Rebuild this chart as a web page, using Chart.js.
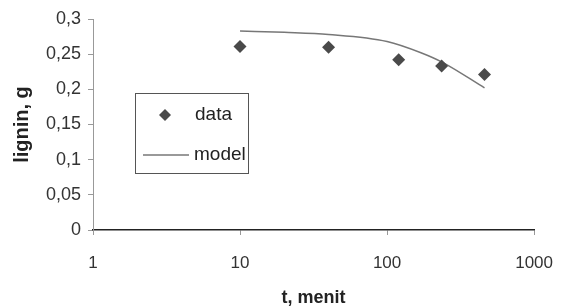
<!DOCTYPE html>
<html>
<head>
<meta charset="utf-8">
<script src="https://cdn.jsdelivr.net/npm/chart.js@4/dist/chart.umd.min.js"></script>
<style>
  html, body { margin: 0; padding: 0; background: #fff; }
  #wrap { width: 571px; height: 306px; }
</style>
</head>
<body>
<div id="wrap"><canvas id="lig" width="571" height="306"></canvas></div>
<script>
// values
var dataT = [10, 40, 120, 235, 460];
var dataLignin = [0.261, 0.260, 0.242, 0.233, 0.221];
var modelT = [10, 20, 40, 100, 170, 240, 460];
var modelLignin = [0.283, 0.281, 0.278, 0.268, 0.252, 0.238, 0.202];
var xTicks = [1, 10, 100, 1000];

var FONT = 'Liberation Sans, Arial, sans-serif';

function pairs(xs, ys) {
    var out = [];
    for (var i = 0; i < xs.length; i++) out.push({ x: xs[i], y: ys[i] });
    return out;
}

// legend drawn inside the plot, like the original
var boxLegend = {
    id: 'boxLegend',
    afterDraw: function (chart) {
        var ctx = chart.ctx;
        ctx.save();
        ctx.strokeStyle = '#555';
        ctx.lineWidth = 1;
        ctx.fillStyle = '#fff';
        ctx.fillRect(135.5, 93.5, 113, 80);
        ctx.strokeRect(135.5, 93.5, 113, 80);

        // diamond
        ctx.fillStyle = '#4a4a4a';
        ctx.beginPath();
        ctx.moveTo(165, 109);
        ctx.lineTo(171, 115);
        ctx.lineTo(165, 121);
        ctx.lineTo(159, 115);
        ctx.closePath();
        ctx.fill();

        // line
        ctx.strokeStyle = '#777';
        ctx.lineWidth = 1.5;
        ctx.beginPath();
        ctx.moveTo(143, 155);
        ctx.lineTo(189, 155);
        ctx.stroke();

        ctx.fillStyle = '#222';
        ctx.font = '19px ' + FONT;
        ctx.textBaseline = 'middle';
        ctx.fillText('data', 195, 115);
        ctx.fillText('model', 194, 155);
        ctx.restore();
    }
};

var ctx = document.getElementById('lig').getContext('2d');
var chart = new Chart(ctx, {
    type: 'scatter',
    data: {
        datasets: [{
            label: 'data',
            data: pairs(dataT, dataLignin),
            pointStyle: 'rectRot',
            pointRadius: 6.5,
            pointHoverRadius: 6.5,
            backgroundColor: '#4a4a4a',
            borderColor: '#4a4a4a',
            borderWidth: 0,
            showLine: false
        }, {
            label: 'model',
            type: 'line',
            data: pairs(modelT, modelLignin),
            borderColor: '#777',
            borderWidth: 1.5,
            pointRadius: 0,
            cubicInterpolationMode: 'monotone',
            fill: false
        }]
    },
    options: {
        responsive: false,
        animation: false,
        layout: { padding: { top: 19, right: 32, left: 0, bottom: 0 } },
        plugins: {
            legend: { display: false },
            tooltip: { enabled: false }
        },
        scales: {
            x: {
                type: 'logarithmic',
                min: 1,
                max: 1000,
                afterBuildTicks: function (scale) {
                    scale.ticks = xTicks.map(function (v) { return { value: v }; });
                },
                afterFit: function (scale) { scale.height = 76; },
                ticks: {
                    color: '#333',
                    font: { family: FONT, size: 17 },
                    padding: 18,
                    maxRotation: 0,
                    callback: function (v) { return String(v); }
                },
                grid: { drawOnChartArea: false, drawTicks: true, tickLength: 5, color: '#999' },
                border: { display: true, color: '#222', width: 1.5 },
                title: {
                    display: true,
                    text: 't, menit',
                    color: '#222',
                    font: { family: FONT, size: 18, weight: 'bold', lineHeight: 1 },
                    padding: { top: 0, bottom: -1 }
                }
            },
            y: {
                min: 0,
                max: 0.3,
                afterFit: function (scale) { scale.width = 93; },
                ticks: {
                    stepSize: 0.05,
                    color: '#333',
                    font: { family: FONT, size: 18 },
                    padding: 7,
                    callback: function (v) {
                        return String(parseFloat(v.toFixed(2))).replace('.', ',');
                    }
                },
                grid: { drawOnChartArea: false, drawTicks: true, tickLength: 5, color: '#999' },
                border: { display: true, color: '#999', width: 1 },
                title: {
                    display: true,
                    text: 'lignin, g',
                    color: '#222',
                    font: { family: FONT, size: 20, weight: 'bold', lineHeight: 1 },
                    padding: { top: 12, bottom: 0 }
                }
            }
        }
    },
    plugins: [boxLegend]
});
</script>
</body>
</html>
